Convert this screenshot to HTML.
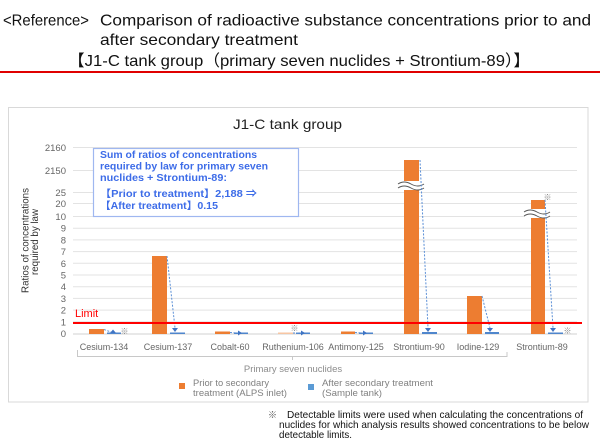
<!DOCTYPE html>
<html><head><meta charset="utf-8">
<style>
html,body{margin:0;padding:0;background:#fff;width:600px;height:442px;overflow:hidden}
svg{display:block}
text{font-family:"Liberation Sans","Noto Sans CJK JP","DejaVu Sans",sans-serif}
</style></head>
<body>
<svg width="600" height="442" viewBox="0 0 600 442" xmlns="http://www.w3.org/2000/svg">
<rect width="600" height="442" fill="#fff"/>
<!-- Header -->
<text x="3" y="25.5" font-size="16" fill="#111" textLength="86" lengthAdjust="spacingAndGlyphs">&lt;Reference&gt;</text>
<text x="100" y="25.5" font-size="16" fill="#111" textLength="491" lengthAdjust="spacingAndGlyphs">Comparison of radioactive substance concentrations prior to and</text>
<text x="100" y="45" font-size="16" fill="#111" textLength="198" lengthAdjust="spacingAndGlyphs">after secondary treatment</text>
<text x="68" y="66" font-size="16" fill="#111" textLength="462" lengthAdjust="spacingAndGlyphs">【J1-C tank group（primary seven nuclides + Strontium-89）】</text>
<rect x="0" y="71" width="600" height="2" fill="#e00000"/>

<!-- Chart frame -->
<rect x="8.5" y="107.5" width="579.5" height="294.5" fill="#fff" stroke="#d9d9d9" stroke-width="1"/>
<text x="233" y="129" font-size="14" fill="#222" textLength="109" lengthAdjust="spacingAndGlyphs">J1-C tank group</text>

<!-- gridlines -->
<g stroke="#e3e3e3" stroke-width="1">
<line x1="73" x2="577" y1="147.5" y2="147.5"/>
<line x1="73" x2="577" y1="170.5" y2="170.5"/>
<line x1="73" x2="577" y1="192.5" y2="192.5"/>
<line x1="73" x2="577" y1="203.5" y2="203.5"/>
<line x1="73" x2="577" y1="216.5" y2="216.5"/>
<line x1="73" x2="577" y1="228.2" y2="228.2"/>
<line x1="73" x2="577" y1="239.9" y2="239.9"/>
<line x1="73" x2="577" y1="251.6" y2="251.6"/>
<line x1="73" x2="577" y1="263.3" y2="263.3"/>
<line x1="73" x2="577" y1="275" y2="275"/>
<line x1="73" x2="577" y1="286.7" y2="286.7"/>
<line x1="73" x2="577" y1="298.4" y2="298.4"/>
<line x1="73" x2="577" y1="310.1" y2="310.1"/>
<line x1="73" x2="577" y1="321.8" y2="321.8"/>
</g>
<line x1="73" x2="577" y1="334" y2="334" stroke="#d0d0d0" stroke-width="1"/>

<!-- y tick labels -->
<g font-size="9.5" fill="#666" text-anchor="end">
<text x="66" y="151">2160</text>
<text x="66" y="174">2150</text>
<text x="66" y="196">25</text>
<text x="66" y="207">20</text>
<text x="66" y="220">10</text>
<text x="66" y="231.7">9</text>
<text x="66" y="243.4">8</text>
<text x="66" y="255.1">7</text>
<text x="66" y="266.8">6</text>
<text x="66" y="278.5">5</text>
<text x="66" y="290.2">4</text>
<text x="66" y="301.9">3</text>
<text x="66" y="313.6">2</text>
<text x="66" y="325.3">1</text>
<text x="66" y="337">0</text>
</g>

<!-- y axis title -->
<text transform="translate(28.5,240.5) rotate(-90)" text-anchor="middle" font-size="10" fill="#333" textLength="105" lengthAdjust="spacingAndGlyphs">Ratios of concentrations</text>
<text transform="translate(38,242) rotate(-90)" text-anchor="middle" font-size="10" fill="#333" textLength="66" lengthAdjust="spacingAndGlyphs">required by law</text>

<!-- orange bars -->
<g fill="#ed7d31">
<rect x="89" y="329" width="15" height="5"/>
<rect x="152" y="256" width="15" height="78"/>
<rect x="215" y="331.5" width="15" height="2.5"/>
<rect x="341" y="331.5" width="14" height="2.5"/>
<rect x="404" y="160" width="15" height="174"/>
<rect x="467" y="296" width="15" height="38"/>
<rect x="531" y="200" width="14" height="134"/>
</g>
<rect x="278" y="332.5" width="15" height="1.5" fill="#f7c6a3"/>

<!-- blue bars -->
<g fill="#4f86cc">
<rect x="107" y="332.5" width="14" height="1.5"/>
<rect x="170" y="332.5" width="15" height="1.5"/>
<rect x="234" y="332.5" width="14" height="1.5"/>
<rect x="296" y="332.5" width="14" height="1.5"/>
<rect x="359" y="332.5" width="14" height="1.5"/>
<rect x="422" y="332" width="15" height="2"/>
<rect x="485" y="332" width="14" height="2"/>
<rect x="548" y="332.5" width="15" height="1.5"/>
</g>

<!-- break symbols -->
<g>
<rect x="399" y="181" width="25" height="9" fill="#fff"/>
<path d="M398 184 q6 -4 13 0 t13 0" fill="none" stroke="#555" stroke-width="0.9"/>
<path d="M398 188 q6 -4 13 0 t13 0" fill="none" stroke="#555" stroke-width="0.9"/>
<rect x="525" y="209" width="25" height="9" fill="#fff"/>
<path d="M524 212 q6 -4 13 0 t13 0" fill="none" stroke="#555" stroke-width="0.9"/>
<path d="M524 216 q6 -4 13 0 t13 0" fill="none" stroke="#555" stroke-width="0.9"/>
</g>

<!-- dotted arrows -->
<g stroke="#5b8fd6" stroke-width="1" stroke-dasharray="2,1.5" fill="none">
<line x1="104" y1="329.5" x2="111" y2="332"/>
<line x1="167" y1="256" x2="175" y2="328"/>
<line x1="230" y1="332.5" x2="238" y2="333"/>
<line x1="293" y1="333" x2="301" y2="333"/>
<line x1="355" y1="332.5" x2="363" y2="333"/>
<line x1="420" y1="160" x2="428" y2="328"/>
<line x1="482" y1="296" x2="490" y2="328"/>
<line x1="545" y1="200" x2="553" y2="328"/>
</g>
<g fill="#3f74c4">
<path d="M110 333 l3 -3.5 l3 3.5z"/>
<path d="M172 328 l6 0 l-3 4z"/>
<path d="M238 330.5 l4 2.5 l-4 2.5z"/>
<path d="M301 330.5 l4 2.5 l-4 2.5z"/>
<path d="M363 330.5 l4 2.5 l-4 2.5z"/>
<path d="M425 328 l6 0 l-3 4z"/>
<path d="M487 328 l6 0 l-3 4z"/>
<path d="M550 328 l6 0 l-3 4z"/>
</g>

<!-- ※ markers -->
<g font-size="8" fill="#888">
<text x="120.5" y="334">※</text>
<text x="290.5" y="331">※</text>
<text x="543.5" y="200">※</text>
<text x="563.5" y="333.5">※</text>
</g>

<!-- limit line -->
<rect x="73" y="322" width="509" height="2" fill="#ff0000"/>
<text x="75" y="317" font-size="11" fill="#ff0000">Limit</text>

<!-- category labels -->
<g font-size="9" fill="#666" text-anchor="middle">
<text x="104" y="350">Cesium-134</text>
<text x="168" y="350">Cesium-137</text>
<text x="230" y="350">Cobalt-60</text>
<text x="293" y="350">Ruthenium-106</text>
<text x="356" y="350">Antimony-125</text>
<text x="419" y="350">Strontium-90</text>
<text x="478" y="350">Iodine-129</text>
<text x="542" y="350">Strontium-89</text>
</g>
<path d="M77.5 350 V356.5 H507 V352" fill="none" stroke="#c8c8c8" stroke-width="1"/>
<line x1="292.5" y1="356" x2="292.5" y2="360" stroke="#c8c8c8" stroke-width="1"/>
<text x="293" y="372" font-size="9.5" fill="#8c8c8c" text-anchor="middle">Primary seven nuclides</text>

<!-- legend -->
<rect x="179" y="383" width="6" height="6" fill="#ed7d31"/>
<text x="193" y="386" font-size="9.5" fill="#808080" textLength="76" lengthAdjust="spacingAndGlyphs">Prior to secondary</text>
<text x="193" y="396" font-size="9.5" fill="#808080" textLength="94" lengthAdjust="spacingAndGlyphs">treatment (ALPS inlet)</text>
<rect x="308" y="384" width="6" height="6" fill="#5b9bd5"/>
<text x="322" y="386" font-size="9.5" fill="#808080" textLength="111" lengthAdjust="spacingAndGlyphs">After secondary treatment</text>
<text x="322" y="396" font-size="9.5" fill="#808080" textLength="60" lengthAdjust="spacingAndGlyphs">(Sample tank)</text>

<!-- text box -->
<rect x="93.5" y="148.5" width="205" height="68" fill="#fff" stroke="#9fb7f0" stroke-width="1.2"/>
<g font-size="10" font-weight="bold" fill="#3d6ce8">
<text x="100" y="158" textLength="157" lengthAdjust="spacingAndGlyphs">Sum of ratios of concentrations</text>
<text x="100" y="169.5" textLength="168" lengthAdjust="spacingAndGlyphs">required by law for primary seven</text>
<text x="100" y="181" textLength="127" lengthAdjust="spacingAndGlyphs">nuclides + Strontium-89:</text>
<text x="100" y="197" textLength="157" lengthAdjust="spacingAndGlyphs">【Prior to treatment】2,188  ⇒</text>
<text x="100" y="209" textLength="118" lengthAdjust="spacingAndGlyphs">【After treatment】0.15</text>
</g>

<!-- footnote -->
<g font-size="10.5" fill="#111">
<text x="268" y="418" font-size="9" fill="#555">※</text>
<text x="287" y="418" textLength="296" lengthAdjust="spacingAndGlyphs">Detectable limits were used when calculating the concentrations of</text>
<text x="279" y="428" textLength="310" lengthAdjust="spacingAndGlyphs">nuclides for which analysis results showed concentrations to be below</text>
<text x="279" y="438" textLength="73" lengthAdjust="spacingAndGlyphs">detectable limits.</text>
</g>
</svg>
</body></html>
